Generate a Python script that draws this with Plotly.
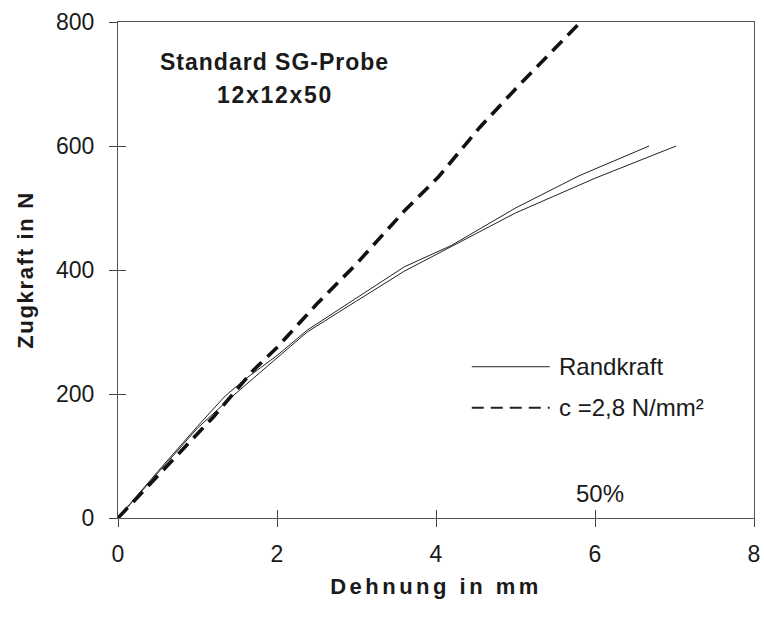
import plotly.graph_objects as go

# Data
rand_a_x = [0, 0.5, 1.0, 1.35, 1.6, 2.0, 2.38, 3.0, 3.6, 4.2, 5.0, 5.8, 6.68]
rand_a_y = [0, 75, 148, 197, 224, 262, 303, 355, 405, 440, 500, 552, 600]
rand_b_x = [0, 0.5, 1.0, 1.4, 2.0, 2.38, 3.0, 3.6, 4.3, 5.0, 6.0, 7.02]
rand_b_y = [0, 72, 145, 192, 258, 300, 350, 398, 445, 492, 548, 600]
c_x = [0, 0.6, 1.2, 1.7, 2.0, 2.5, 3.0, 3.6, 4.03, 4.55, 5.0, 5.82]
c_y = [0, 82, 163, 238, 275, 345, 410, 495, 550, 630, 692, 800]

x_ticks = [0, 2, 4, 6, 8]
y_ticks = [0, 200, 400, 600, 800]

FONT = "Arial, Liberation Sans, sans-serif"
INK = "#1a1a1a"


def spaced(txt, px):
    return f'<span style="letter-spacing:{px}px">{txt}</span>'


fig = go.Figure()
fig.add_trace(go.Scatter(x=rand_a_x, y=rand_a_y, mode="lines",
                         line=dict(color="#222", width=1), showlegend=False))
fig.add_trace(go.Scatter(x=rand_b_x, y=rand_b_y, mode="lines",
                         line=dict(color="#222", width=1), showlegend=False))
fig.add_trace(go.Scatter(x=c_x, y=c_y, mode="lines",
                         line=dict(color="#111", width=3.6, dash="14px,8px"),
                         showlegend=False))
# invisible trace on overlay axes so the inner ticks render
fig.add_trace(go.Scatter(x=[0], y=[0], xaxis="x2", yaxis="y2", mode="markers",
                         marker=dict(opacity=0), showlegend=False, hoverinfo="skip"))

tick_common = dict(showgrid=False, zeroline=False, tickcolor="#444", tickwidth=1, ticklen=8,
                   automargin=False)
fig.update_layout(
    width=764, height=622,
    margin=dict(l=118, r=10, t=22, b=104),
    paper_bgcolor="white", plot_bgcolor="white",
    font=dict(family=FONT, color=INK),
    xaxis=dict(range=[0, 8], tickvals=x_ticks, ticks="outside", showline=True, mirror=True,
               linecolor="#555", linewidth=1, ticklabelstandoff=7, ticklabeloverflow="allow",
               tickfont=dict(size=23, family=FONT, color=INK),
               title=dict(text="<b>" + spaced("Dehnung in mm", 3.5) + "</b>",
                          font=dict(size=22, family=FONT, color=INK), standoff=13),
               **tick_common),
    yaxis=dict(range=[0, 800], tickvals=y_ticks, ticks="outside", showline=True, mirror=True,
               linecolor="#555", linewidth=1, ticklabelstandoff=10, ticklabeloverflow="allow",
               tickfont=dict(size=23, family=FONT, color=INK),
               title=dict(text="<b>" + spaced("Zugkraft in N", 1.7) + "</b>",
                          font=dict(size=22, family=FONT, color=INK), standoff=16),
               **tick_common),
    xaxis2=dict(range=[0, 8], tickvals=x_ticks, ticks="inside", showticklabels=False,
                overlaying="x", anchor="y2", showline=False, **tick_common),
    yaxis2=dict(range=[0, 800], tickvals=y_ticks, ticks="inside", showticklabels=False,
                overlaying="y", anchor="x2", showline=False, **tick_common),
)

fig.add_annotation(x=1.97, y=735, xref="x", yref="y", text="<b>" + spaced("Standard SG-Probe", 1.0) + "</b>",
                   showarrow=False, font=dict(size=23, family=FONT, color=INK))
fig.add_annotation(x=1.97, y=683, xref="x", yref="y", text="<b>" + spaced("12x12x50", 1.7) + "</b>",
                   showarrow=False, font=dict(size=23, family=FONT, color=INK))
fig.add_annotation(x=6.06, y=40, xref="x", yref="y", text="50%",
                   showarrow=False, font=dict(size=24, family=FONT, color=INK))

# Legend (drawn manually to match the long sample lines)
fig.add_shape(type="line", x0=4.45, x1=5.43, y0=244, y1=244, xref="x", yref="y",
              line=dict(color="#222", width=1))
fig.add_shape(type="line", x0=4.45, x1=5.43, y0=178, y1=178, xref="x", yref="y",
              line=dict(color="#222", width=2, dash="12px,7px"))
fig.add_annotation(x=5.52, y=244, xref="x", yref="y", text="Randkraft", xanchor="left",
                   showarrow=False, font=dict(size=24, family=FONT, color=INK))
fig.add_annotation(x=5.52, y=178, xref="x", yref="y", text="c =2,8 N/mm²", xanchor="left",
                   showarrow=False, font=dict(size=24, family=FONT, color=INK))

fig.write_html("out.html")
